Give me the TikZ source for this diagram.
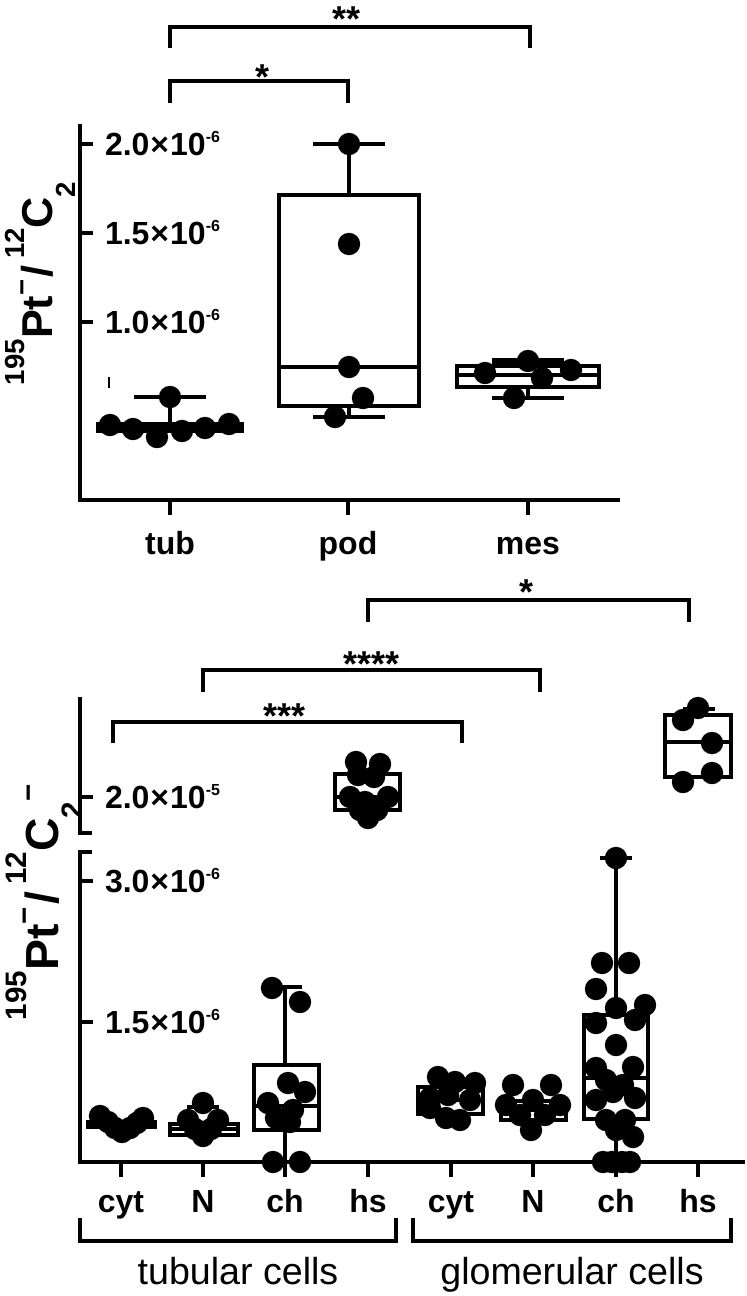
\documentclass[tikz,border=0pt]{standalone}
\usepackage{fontspec}
\setmainfont{Liberation Sans}
\newcommand\sci[2]{#1\kern0.5pt×\kern0.5pt10\raisebox{6.3pt}{\fontsize{8}{8}\selectfont #2}}
\newcommand\ylabA[2]{\raisebox{0.67em}{\fontsize{#1}{#1}\selectfont 195}Pt\raisebox{0.5em}{\fontsize{#1}{#1}\selectfont −}\kern0.05em/\kern0.15em\raisebox{0.67em}{\fontsize{#1}{#1}\selectfont 12}C\raisebox{-0.52em}{\fontsize{#1}{#1}\selectfont 2}#2}
\begin{document}
\begin{tikzpicture}[x=0.5pt,y=-0.5pt,line width=2pt,
  tl/.style={font=\fontsize{16}{18}\selectfont\bfseries,anchor=base west,inner sep=0},
  cat/.style={font=\fontsize{16}{18}\selectfont\bfseries,anchor=base,inner sep=0},
  grp/.style={font=\fontsize{18.8}{22}\selectfont,anchor=base,inner sep=0},
  star/.style={font=\fontsize{18}{20}\selectfont\bfseries,anchor=base,inner sep=0},
  dots/.style={fill=black}]
\useasboundingbox (0,0) rectangle (747,1296);

% ================= TOP PLOT =================
\draw (80,124) -- (80,500) -- (620,500);
\foreach \y in {144,233,322} \draw (80,\y) -- (93,\y);
\foreach \x in {170,348,528} \draw (\x,500) -- (\x,515);
\node[tl] (t20) at (103,155.5) {\sci{2.0}{-6}};
\node[tl] (t15) at (103,244.5) {\sci{1.5}{-6}};
\node[tl] (t10) at (103,333.5) {\sci{1.0}{-6}};
\node[rotate=90,anchor=base west,inner sep=0,font=\fontsize{21.6}{24}\selectfont\bfseries] (ylabT) at (53,387) {\ylabA{13.8}{}};
\node[cat] (ctub) at (170,554) {tub};
\node[cat] (cpod) at (348,554) {pod};
\node[cat] (cmes) at (528,554) {mes};
\draw[line width=1pt] (109,377) -- (109,388);
% tub
\fill (96,422) rectangle (244,433);
\draw (170,422) -- (170,397);
\draw (134,397) -- (206,397);
\foreach \p in {(170,397),(110,425),(133,429),(157,437),(182,431),(205,428),(229,424)} \fill \p circle[radius=5.6pt];
% pod
\draw (279,195) rectangle (419,406);
\draw (279,367) -- (419,367);
\draw (349,195) -- (349,144);
\draw (313,144) -- (385,144);
\draw (349,406) -- (349,417);
\draw (313,417) -- (385,417);
\foreach \p in {(349,144),(349,244),(349,367),(363,398),(335,417)} \fill \p circle[radius=5.6pt];
% mes
\draw (457,366) rectangle (599,387);
\draw (457,375) -- (599,375);
\draw[line width=3pt] (492,361) -- (564,361);
\draw (528,387) -- (528,398);
\draw (492,398) -- (564,398);
\foreach \p in {(485,373),(528,361),(542,378),(571,370),(514,398)} \fill \p circle[radius=5.6pt];
% brackets
\draw (170,48) -- (170,27) -- (530,27) -- (530,48);
\node[star] (s2) at (347,31) {**};
\draw (170,103) -- (170,81) -- (348,81) -- (348,103);
\node[star] (s1) at (263,89) {*};

% ================= BOTTOM PLOT =================
\draw (80,697) -- (80,833) -- (92,833);
\draw (92,852) -- (80,852) -- (80,1162) -- (745,1162);
\foreach \y in {797,881,1022} \draw (80,\y) -- (93,\y);
\foreach \x in {121,203,285,368,451,533,616,698} \draw (\x,1162) -- (\x,1177);
\node[tl] (b20) at (103,808.5) {\sci{2.0}{-5}};
\node[tl] (b30) at (103,892.5) {\sci{3.0}{-6}};
\node[tl] (b15) at (103,1033.5) {\sci{1.5}{-6}};
\node[rotate=90,anchor=base west,inner sep=0,font=\fontsize{23.2}{26}\selectfont\bfseries] (ylabB) at (58,1022) {\ylabA{14.8}{\raisebox{0.42em}{\fontsize{14.8}{15}\selectfont −}}};
\node[cat] (l1) at (121,1212) {cyt};
\node[cat] (l2) at (203,1212) {N};
\node[cat] (l3) at (285,1212) {ch};
\node[cat] (l4) at (368,1212) {hs};
\node[cat] (l5) at (451,1212) {cyt};
\node[cat] (l6) at (533,1212) {N};
\node[cat] (l7) at (616,1212) {ch};
\node[cat] (l8) at (698,1212) {hs};
\draw (80,1218) -- (80,1241) -- (396,1241) -- (396,1218);
\draw (413,1218) -- (413,1241) -- (731,1241) -- (731,1218);
\node[grp] (gt) at (238,1284) {tubular cells};
\node[grp] (gg) at (572,1284) {glomerular cells};
% brackets
\draw (368,622) -- (368,600) -- (689,600) -- (689,622);
\node[star] (b1) at (526,604) {*};
\draw (203,692) -- (203,670) -- (540,670) -- (540,692);
\node[star] (b4) at (372,676) {****};
\draw (113,743) -- (113,722) -- (462,722) -- (462,743);
\node[star] (b3) at (285,728) {***};
% cyt tub
\fill (86,1120) rectangle (157,1129);
\foreach \p in {(100,1116),(108,1122),(115,1128),(122,1132),(130,1128),(137,1123),(143,1118)} \fill \p circle[radius=5.6pt];
% N tub
\draw (170,1124) rectangle (238,1135);
\draw (170,1129) -- (238,1129);
\draw (187,1107) -- (219,1107);
\foreach \p in {(203,1103),(188,1120),(195,1129),(203,1136),(211,1129),(218,1120)} \fill \p circle[radius=5.6pt];
% ch tub
\draw (254,1065) rectangle (319,1130);
\draw (254,1106) -- (319,1106);
\draw (285,1065) -- (285,987);
\draw (270,987) -- (302,987);
\draw (285,1130) -- (285,1162);
\foreach \p in {(272,988),(300,1002),(288,1083),(305,1092),(268,1103),(293,1110),(276,1118),(290,1122),(273,1162),(300,1162)} \fill \p circle[radius=5.6pt];
% hs tub
\draw (335,774) rectangle (400,810);
\draw (335,797) -- (400,797);
\foreach \p in {(356,762),(380,764),(358,775),(374,777),(350,797),(388,797),(365,802),(360,810),(377,810),(368,818)} \fill \p circle[radius=5.6pt];
% cyt glom
\draw (418,1087) rectangle (483,1114);
\draw (418,1100) -- (483,1100);
\foreach \p in {(438,1077),(455,1082),(475,1083),(430,1098),(470,1100),(430,1108),(446,1118),(460,1120),(448,1095)} \fill \p circle[radius=5.6pt];
% N glom
\draw (501,1101) rectangle (566,1120);
\draw (501,1110) -- (566,1110);
\foreach \p in {(513,1085),(551,1085),(506,1105),(560,1105),(520,1115),(545,1115),(531,1130),(533,1100)} \fill \p circle[radius=5.6pt];
% ch glom
\draw (584,1015) rectangle (648,1119);
\draw (584,1078) -- (648,1078);
\draw (616,1015) -- (616,858);
\draw (600,858) -- (632,858);
\draw (616,1119) -- (616,1162);
\foreach \p in {(616,858),(602,963),(629,963),(596,989),(616,1008),(645,1005),(635,1020),(596,1023),(616,1045),(596,1068),(633,1067),(606,1080),(623,1085),(596,1100),(635,1098),(613,1092),(606,1120),(625,1120),(616,1130),(633,1137),(603,1162),(612,1162),(622,1162),(630,1162)} \fill \p circle[radius=5.6pt];
% hs glom
\draw (665,715) rectangle (731,777);
\draw (665,742) -- (731,742);
\draw (698,715) -- (698,709);
\draw (683,709) -- (715,709);
\foreach \p in {(698,708),(683,720),(712,743),(712,773),(683,782)} \fill \p circle[radius=5.6pt];
\end{tikzpicture}
\end{document}
